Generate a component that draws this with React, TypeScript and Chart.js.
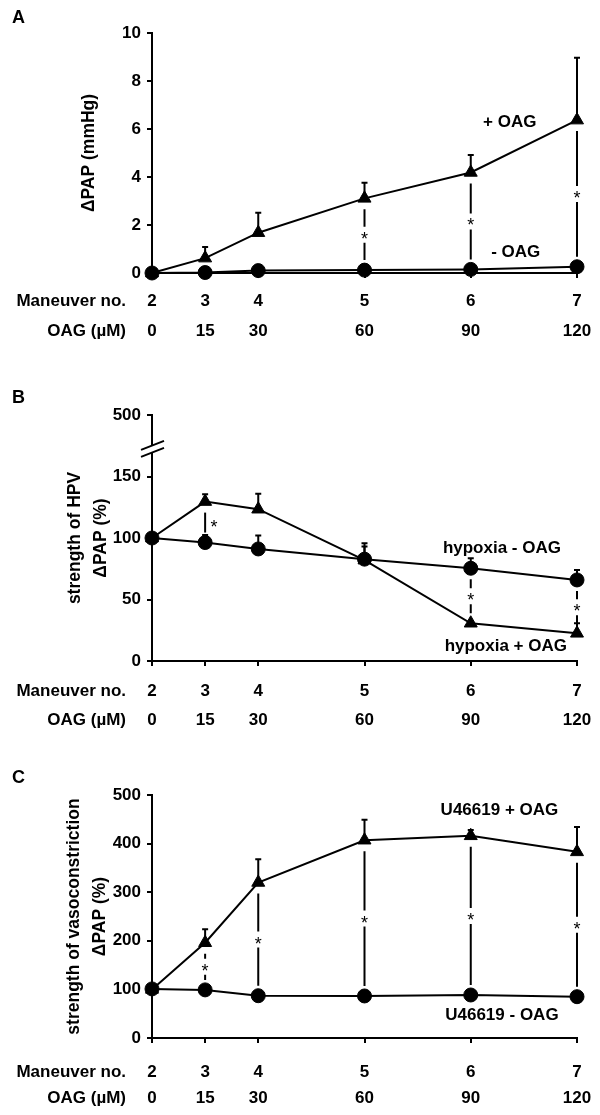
import React, { useEffect, useRef } from "react";
import { Chart, registerables } from "chart.js";
Chart.register(...registerables);

// ---------- shared x axis ----------
const oagConc = [0, 15, 30, 60, 90, 120];
const maneuverNo = ["2", "3", "4", "5", "6", "7"];
const oagLabels = ["0", "15", "30", "60", "90", "120"];

// ---------- Panel A: ΔPAP (mmHg) ----------
const aPlusOAG = [0, 0.62, 1.68, 3.11, 4.19, 6.37];
const aPlusOAGse = [0, 0.46, 0.83, 0.65, 0.73, 2.6];
const aMinusOAG = [0, 0.02, 0.1, 0.12, 0.15, 0.26];
const aMinusOAGse = [0, 0, 0, 0, 0, 0];
const aSignificant = [3, 4, 5];
const aYTicks = [0, 2, 4, 6, 8, 10];
const aYTickLabels = ["0", "2", "4", "6", "8", "10"];

// ---------- Panel B: strength of HPV ----------
const bHypoxiaMinusOAG = [100, 96.3, 91.1, 82.8, 75.4, 65.9];
const bHypoxiaMinusOAGse = [0, 6.2, 10.9, 13, 8.2, 8.1];
const bHypoxiaPlusOAG = [100, 129.6, 123.4, 82, 30.7, 22.5];
const bHypoxiaPlusOAGse = [0, 6, 12.5, 11, 0, 8.2];
const bSignificant = [1, 4, 5];
const bStarBeside = [1];
const bYTicks = [0, 50, 100, 150, 200];
const bYTickLabels = ["0", "50", "100", "150", "500"];

// ---------- Panel C: strength of vasoconstriction ----------
const cU46619PlusOAG = [100, 196, 320, 407, 416, 383];
const cU46619PlusOAGse = [0, 28, 48, 42, 12, 51];
const cU46619MinusOAG = [101, 99, 87, 86.5, 88.5, 85];
const cU46619MinusOAGse = [0, 0, 0, 0, 0, 0];
const cSignificant = [1, 2, 3, 4, 5];
const cYTicks = [0, 100, 200, 300, 400, 500];
const cYTickLabels = ["0", "100", "200", "300", "400", "500"];

const FONT = "'Liberation Sans', Arial, Helvetica, sans-serif";
const W = 600;
const AREA_RIGHT = 577;
const AREA_LEFT = 152;

type Panel = {
  letter: string;
  canvasTop: number;
  height: number;
  areaTop: number;
  areaBottom: number;
  letterY: number;
  yMax: number;
  yTicks: number[];
  yTickLabels: string[];
  yTitle: string | string[];
  yTitlePad: number;
  xPad: number;
  xLH: number;
  tri: number[];
  triSe: number[];
  circ: number[];
  circSe: number[];
  sig: number[];
  starBeside: number[];
  labels: { text: string; x: number; y: number }[];
  yBreakAt?: number;
};

const panels: Panel[] = [
  {
    letter: "A", canvasTop: 0, height: 350, areaTop: 33, areaBottom: 273, letterY: 18,
    yMax: 10, yTicks: aYTicks, yTickLabels: aYTickLabels,
    yTitle: "\u0394PAP (mmHg)", yTitlePad: 76, xPad: 9, xLH: 29.5,
    tri: aPlusOAG, triSe: aPlusOAGse, circ: aMinusOAG, circSe: aMinusOAGse,
    sig: aSignificant, starBeside: [],
    labels: [
      { text: "+ OAG", x: 101, y: 6.29 },
      { text: "- OAG", x: 102.7, y: 0.85 },
    ],
  },
  {
    letter: "B", canvasTop: 350, height: 385, areaTop: 65, areaBottom: 311, letterY: 48,
    yMax: 200, yTicks: bYTicks, yTickLabels: bYTickLabels,
    yTitle: ["strength of HPV", "\u0394PAP (%)"], yTitlePad: 62, xPad: 10.5, xLH: 29.5,
    tri: bHypoxiaPlusOAG, triSe: bHypoxiaPlusOAGse, circ: bHypoxiaMinusOAG, circSe: bHypoxiaMinusOAGse,
    sig: bSignificant, starBeside: bStarBeside,
    labels: [
      { text: "hypoxia - OAG", x: 98.8, y: 91.6 },
      { text: "hypoxia + OAG", x: 99.9, y: 12 },
    ],
    yBreakAt: 172.5,
  },
  {
    letter: "C", canvasTop: 735, height: 380, areaTop: 60, areaBottom: 303, letterY: 43,
    yMax: 500, yTicks: cYTicks, yTickLabels: cYTickLabels,
    yTitle: ["strength of vasoconstriction", "\u0394PAP (%)"], yTitlePad: 61, xPad: 16, xLH: 26.5,
    tri: cU46619PlusOAG, triSe: cU46619PlusOAGse, circ: cU46619MinusOAG, circSe: cU46619MinusOAGse,
    sig: cSignificant, starBeside: [],
    labels: [
      { text: "U46619 + OAG", x: 98.1, y: 469 },
      { text: "U46619 - OAG", x: 98.8, y: 46 },
    ],
  },
];

function makePlugin(p: Panel) {
  return {
    id: "panelExtras" + p.letter,
    beforeDatasetsDraw(chart: any) {
      const { ctx, scales } = chart;
      const xs = scales.x, ys = scales.y;
      ctx.save();
      ctx.strokeStyle = "#000";
      ctx.lineWidth = 2;
      const bars = [
        [p.tri, p.triSe],
        [p.circ, p.circSe],
      ];
      for (const [vals, se] of bars) {
        vals.forEach((v: number, i: number) => {
          if (!se[i]) return;
          const x = xs.getPixelForValue(oagConc[i]);
          const y0 = ys.getPixelForValue(v);
          const y1 = ys.getPixelForValue(v + se[i]);
          ctx.beginPath();
          ctx.moveTo(x, y0);
          ctx.lineTo(x, y1);
          ctx.moveTo(x - 3, y1);
          ctx.lineTo(x + 3, y1);
          ctx.stroke();
        });
      }
      ctx.restore();
    },
    afterDatasetsDraw(chart: any) {
      const { ctx, scales } = chart;
      const xs = scales.x, ys = scales.y;
      ctx.save();
      ctx.strokeStyle = "#000";
      ctx.fillStyle = "#000";
      ctx.lineWidth = 2;
      // significance marks
      p.sig.forEach((i) => {
        const x = xs.getPixelForValue(oagConc[i]);
        const a = ys.getPixelForValue(p.tri[i]);
        const b = ys.getPixelForValue(p.circ[i]);
        const top = Math.min(a, b) + 11;
        const bot = Math.max(a, b) - 10;
        const mid = (top + bot) / 2;
        ctx.font = `normal 18px ${FONT}`;
        ctx.textAlign = "center";
        ctx.textBaseline = "alphabetic";
        ctx.beginPath();
        if (p.starBeside.includes(i)) {
          ctx.moveTo(x, top);
          ctx.lineTo(x, bot);
          ctx.stroke();
          ctx.fillText("*", x + 9, mid + 10);
        } else {
          ctx.moveTo(x, top);
          ctx.lineTo(x, mid - 8);
          ctx.moveTo(x, mid + 8);
          ctx.lineTo(x, bot);
          ctx.stroke();
          ctx.fillText("*", x, mid + 10);
        }
      });
      // series labels
      ctx.font = `bold 17px ${FONT}`;
      ctx.textAlign = "center";
      ctx.textBaseline = "middle";
      p.labels.forEach((l) => {
        ctx.fillText(l.text, xs.getPixelForValue(l.x), ys.getPixelForValue(l.y));
      });
      ctx.restore();
    },
    afterDraw(chart: any) {
      const { ctx, scales } = chart;
      const xs = scales.x, ys = scales.y;
      ctx.save();
      ctx.fillStyle = "#000";
      // panel letter
      ctx.font = `bold 18px ${FONT}`;
      ctx.textAlign = "left";
      ctx.textBaseline = "middle";
      ctx.fillText(p.letter, 12, p.letterY);
      // row headers for x axis rows
      ctx.font = `bold 17px ${FONT}`;
      ctx.textAlign = "right";
      const row0 = xs.top + 5 + p.xPad + p.xLH / 2;
      ctx.fillText("Maneuver no.", 126, row0);
      ctx.fillText("OAG (\u00b5M)", 126, row0 + p.xLH);
      // axis break
      if (p.yBreakAt !== undefined) {
        const ax = chart.chartArea.left;
        const yc = ys.getPixelForValue(p.yBreakAt);
        ctx.fillStyle = "#fff";
        ctx.fillRect(ax - 3, yc - 3.5, 6, 7);
        ctx.strokeStyle = "#000";
        ctx.lineWidth = 2;
        ctx.beginPath();
        ctx.moveTo(ax - 11, yc + 1);
        ctx.lineTo(ax + 12, yc - 8);
        ctx.moveTo(ax - 11, yc + 8);
        ctx.lineTo(ax + 12, yc - 1);
        ctx.stroke();
      }
      ctx.restore();
    },
  };
}

function makeConfig(p: Panel): any {
  const pts = (vals: number[]) => vals.map((v, i) => ({ x: oagConc[i], y: v }));
  const axisCommon = {
    grid: { display: true, drawOnChartArea: false, drawTicks: true, tickLength: 5, color: "#000", lineWidth: 2 },
    border: { display: true, color: "#000", width: 2 },
  };
  const ds = (vals: number[], style: string, r: number) => ({
    data: pts(vals),
    borderColor: "#000",
    backgroundColor: "#000",
    borderWidth: 2,
    pointStyle: style,
    pointRadius: r,
    pointBorderWidth: 1,
    pointBackgroundColor: "#000",
    pointBorderColor: "#000",
    tension: 0,
    clip: false,
  });
  return {
    type: "line",
    data: {
      datasets: [ds(p.tri, "triangle", 7.5), ds(p.circ, "circle", 7)],
    },
    options: {
      responsive: false,
      animation: false,
      devicePixelRatio: 1,
      events: [],
      layout: { padding: { top: p.areaTop, right: W - AREA_RIGHT, left: 0, bottom: 0 } },
      plugins: { legend: { display: false }, tooltip: { enabled: false }, title: { display: false } },
      scales: {
        x: {
          type: "linear",
          min: 0,
          max: 120,
          ...axisCommon,
          afterBuildTicks: (s: any) => {
            s.ticks = oagConc.map((v) => ({ value: v }));
          },
          ticks: {
            autoSkip: false,
            maxRotation: 0,
            minRotation: 0,
            padding: p.xPad,
            color: "#000",
            font: { family: FONT, size: 17, weight: "bold", lineHeight: p.xLH + "px" },
            callback: (_v: any, i: number) => [maneuverNo[i], oagLabels[i]],
          },
          afterFit: (s: any) => {
            s.height = p.height - p.areaBottom;
            s.paddingLeft = 0;
            s.paddingRight = 0;
          },
        },
        y: {
          type: "linear",
          min: 0,
          max: p.yMax,
          ...axisCommon,
          afterBuildTicks: (s: any) => {
            s.ticks = p.yTicks.map((v) => ({ value: v }));
          },
          ticks: {
            padding: 6,
            color: "#000",
            font: { family: FONT, size: 17, weight: "bold" },
            callback: (_v: any, i: number) => p.yTickLabels[i],
          },
          title: {
            display: true,
            text: p.yTitle,
            color: "#000",
            font: { family: FONT, size: 17.5, weight: "bold", lineHeight: "26px" },
            padding: { top: p.yTitlePad, bottom: 0 },
          },
          afterFit: (s: any) => {
            s.width = AREA_LEFT;
            s.paddingTop = 0;
            s.paddingBottom = 0;
          },
        },
      },
    },
    plugins: [makePlugin(p)],
  };
}

function PanelChart({ p }: { p: Panel }) {
  const ref = useRef<HTMLCanvasElement>(null);
  useEffect(() => {
    if (!ref.current) return;
    const chart = new Chart(ref.current, makeConfig(p));
    return () => chart.destroy();
  }, [p]);
  return (
    <canvas
      ref={ref}
      width={W}
      height={p.height}
      style={{ position: "absolute", left: 0, top: p.canvasTop, width: W, height: p.height }}
    />
  );
}

export default function App() {
  return (
    <div style={{ position: "absolute", left: 0, top: 0, width: W, height: 1115, background: "#fff" }}>
      {panels.map((p) => (
        <PanelChart key={p.letter} p={p} />
      ))}
    </div>
  );
}
